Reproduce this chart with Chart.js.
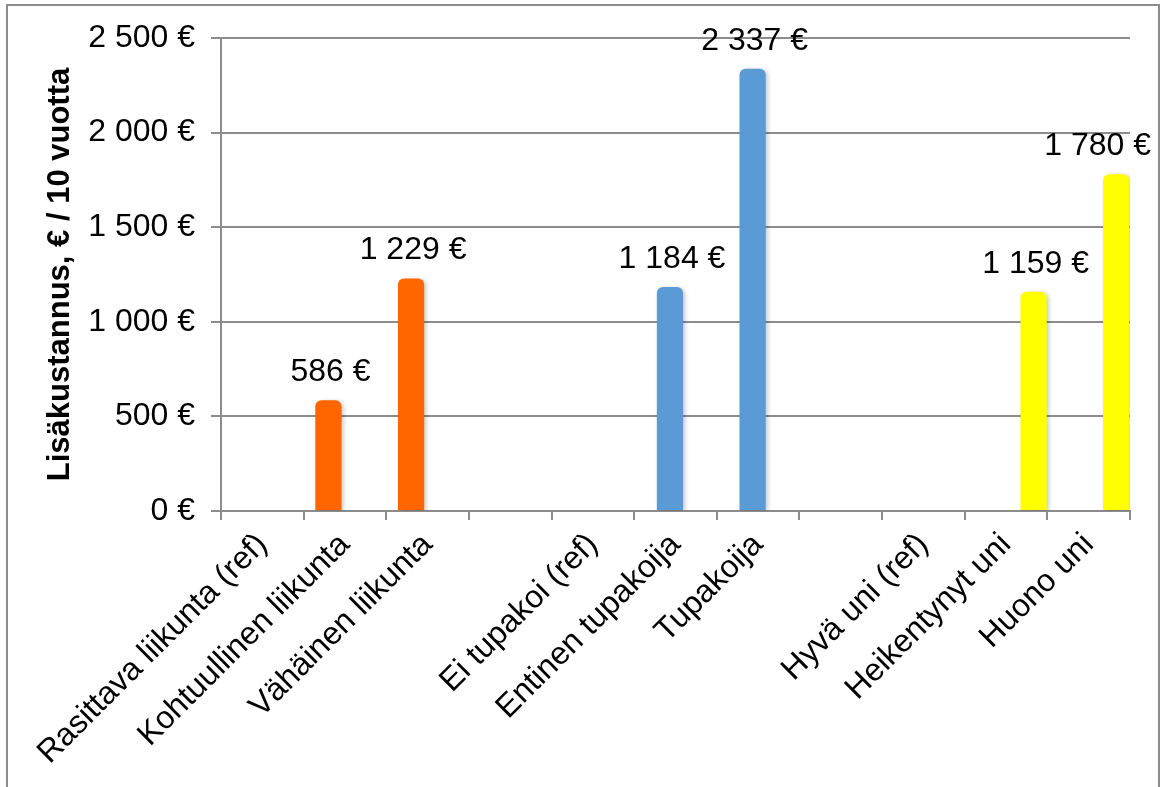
<!DOCTYPE html>
<html lang="fi">
<head>
<meta charset="utf-8">
<title>Lisäkustannus, € / 10 vuotta</title>
<script src="https://cdn.jsdelivr.net/npm/chart.js@4.4.1/dist/chart.umd.min.js"></script>
<style>
  html, body { margin: 0; padding: 0; background: #fff; }
  #wrap { position: relative; width: 1161px; height: 787px; }
</style>
</head>
<body>
<div id="wrap"><canvas id="costChart"></canvas></div>
<script>
// categories, blank entries are the gaps between the three groups
const categories = [
    'Rasittava liikunta (ref)', 'Kohtuullinen liikunta', 'Vähäinen liikunta', '',
    'Ei tupakoi (ref)', 'Entinen tupakoija', 'Tupakoija', '',
    'Hyvä uni (ref)', 'Heikentynyt uni', 'Huono uni'
];
const activityCost = [null, 586, 1229, null, null, null, null, null, null, null, null];
const smokingCost  = [null, null, null, null, null, 1184, 2337, null, null, null, null];
const sleepCost    = [null, null, null, null, null, null, null, null, null, 1159, 1780];
const yTicks = [0, 500, 1000, 1500, 2000, 2500];
const yTitle = 'Lisäkustannus, € / 10 vuotta';

const FONT = "'Liberation Sans', Arial, sans-serif";
const GRID = '#8c8c8c';

const euro = v => String(v).replace(/\B(?=(\d{3})+(?!\d))/g, ' ') + ' €';

// frame around the whole chart
const framePlugin = {
    id: 'frame',
    beforeDraw(chart) {
        const ctx = chart.ctx;
        ctx.save();
        ctx.strokeStyle = GRID;
        ctx.lineWidth = 2;
        ctx.strokeRect(7, 5, chart.width - 9, chart.height + 20);
        ctx.restore();
    }
};

// soft shadow under the bars and value labels above them
const barLabelPlugin = {
    id: 'barLabels',
    beforeDatasetsDraw(chart) {
        const ctx = chart.ctx;
        ctx.save();
        ctx.shadowColor = 'rgba(0,0,0,0.22)';
        ctx.shadowBlur = 4;
        ctx.shadowOffsetX = 2;
        ctx.shadowOffsetY = 1;
    },
    afterDatasetsDraw(chart) {
        const ctx = chart.ctx;
        ctx.restore();
        ctx.save();
        ctx.font = '32px ' + FONT;
        ctx.fillStyle = '#000';
        ctx.textAlign = 'center';
        ctx.textBaseline = 'alphabetic';
        const maxRight = chart.width - 10;
        chart.data.datasets.forEach((ds, i) => {
            if (ds.spacer) return;
            chart.getDatasetMeta(i).data.forEach((bar, j) => {
                const v = ds.data[j];
                if (v == null) return;
                const text = euro(v);
                const half = ctx.measureText(text).width / 2;
                // keep the label inside the frame
                const x = Math.min(bar.x + 2, maxRight - half);
                ctx.fillText(text, x, bar.y - 19);
            });
        });
        ctx.restore();
    }
};

const barStyle = {
    borderRadius: { topLeft: 6, topRight: 6 },
    borderSkipped: 'bottom'
};

// six slots per category: the empty ones push orange, blue and yellow into place
const datasets = [
    { label: '', data: [], stack: 's0', spacer: true },
    { label: 'Liikunta', data: activityCost, backgroundColor: '#ff6600', stack: 's1', ...barStyle },
    { label: 'Tupakointi', data: smokingCost, backgroundColor: '#5b9bd5', stack: 's2', ...barStyle },
    { label: '', data: [], stack: 's3', spacer: true },
    { label: '', data: [], stack: 's4', spacer: true },
    { label: 'Uni', data: sleepCost, backgroundColor: '#ffff00', stack: 's5', ...barStyle }
];

new Chart(document.getElementById('costChart'), {
    type: 'bar',
    data: { labels: categories, datasets },
    options: {
        responsive: true,
        maintainAspectRatio: false,
        animation: false,
        events: [],
        layout: { padding: { top: 38, right: 31, bottom: 0, left: 0 } },
        plugins: {
            legend: { display: false },
            tooltip: { enabled: false }
        },
        datasets: { bar: { categoryPercentage: 0.8, barPercentage: 2.38 } },
        scales: {
            x: {
                grid: {
                    display: true,
                    drawOnChartArea: false,
                    drawTicks: true,
                    tickLength: 9,
                    color: GRID,
                    lineWidth: 2,
                    offset: true
                },
                border: { display: true, color: GRID, width: 2 },
                ticks: {
                    autoSkip: false,
                    maxRotation: 45,
                    minRotation: 45,
                    labelOffset: 0,
                    padding: 6,
                    color: '#000',
                    font: { family: FONT, size: 32 }
                },
                afterFit(scale) { scale.height = 276; }
            },
            y: {
                min: yTicks[0],
                max: yTicks[yTicks.length - 1],
                ticks: {
                    stepSize: yTicks[1] - yTicks[0],
                    padding: 16,
                    color: '#000',
                    font: { family: FONT, size: 32 },
                    callback: v => euro(v)
                },
                grid: {
                    color: GRID,
                    lineWidth: 2,
                    drawTicks: true,
                    tickLength: 10
                },
                border: { display: true, color: GRID, width: 2 },
                title: {
                    display: true,
                    text: yTitle,
                    color: '#000',
                    font: { family: FONT, size: 31, weight: 'bold' },
                    padding: { top: 42, bottom: 0 }
                },
                afterFit(scale) { scale.width = 221; }
            }
        }
    },
    plugins: [framePlugin, barLabelPlugin]
});
</script>
</body>
</html>
